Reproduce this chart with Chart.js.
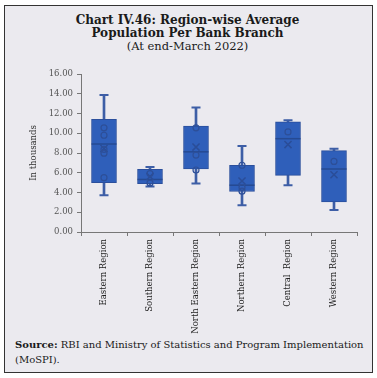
<!DOCTYPE html>
<html>
<head>
<meta charset="utf-8">
<script src="https://cdn.jsdelivr.net/npm/chart.js@4.4.0/dist/chart.umd.min.js"></script>
<style>
  body { margin: 0; background: #fff; }
  #frame {
    position: absolute; left: 4px; top: 5px; width: 367px; height: 366px;
    border: 1.5px solid #333; background: #ebeaef;
  }
  .title {
    position: absolute; left: 0; width: 375px; text-align: center;
    font-family: "DejaVu Serif", serif; color: #1a1a1a;
  }
  #t1 { top: 13px; font-weight: bold; font-size: 12px; }
  #t2 { top: 26px; font-weight: bold; font-size: 12px; }
  #t3 { top: 39px; font-size: 11.5px; }
  #source {
    position: absolute; left: 15px; top: 337px; width: 356px;
    font-family: "DejaVu Serif", serif; font-size: 10px; line-height: 15px; color: #1a1a1a;
  }
  #wrap { position: absolute; left: 0; top: 60px; width: 377px; height: 277px; }
</style>
</head>
<body>
<div id="frame"></div>
<div class="title" id="t1">Chart IV.46: Region-wise Average</div>
<div class="title" id="t2">Population Per Bank Branch</div>
<div class="title" id="t3">(At end-March 2022)</div>
<div id="wrap"><canvas id="boxChart"></canvas></div>
<div id="source"><b>Source:</b> RBI and Ministry of Statistics and Program Implementation (MoSPI).</div>
<script>
// Regions
const regions = ["Eastern Region", "Southern Region", "North Eastern Region", "Northern Region", "Central  Region", "Western Region"];

// box plot stats (in thousands)
const whiskerLow = [3.72, 4.6, 4.9, 2.72, 4.74, 2.24];
const whiskerHigh = [13.88, 6.57, 12.62, 8.72, 11.32, 8.43];
const q1 = [5.0, 4.9, 6.38, 4.1, 5.74, 3.05];
const q3 = [11.41, 6.35, 10.72, 6.76, 11.15, 8.24];
const medians = [8.91, 5.32, 8.12, 4.74, 9.45, 6.38];
const means = [8.45, 5.62, 8.6, 5.16, 8.85, 5.8];

// individual observations shown inside the boxes
const innerPoints = [
  [10.55, 9.8, 8.37, 7.98, 5.5],
  [5.92, 4.95],
  [10.55, 7.79, 6.28],
  [6.76, 4.52, 4.13],
  [10.13],
  [7.15]
];

const yTicks = [0, 2, 4, 6, 8, 10, 12, 14, 16];

const boxFill = "#2f5fba";
const boxLine = "#2b4f9c";
const whiskerColor = "#3d5ea6";

//build point data for the category axis
const capData = [];
regions.forEach((r, i) => {
  capData.push({ x: r, y: whiskerLow[i] });
  capData.push({ x: r, y: whiskerHigh[i] });
});
const medianData = regions.map((r, i) => ({ x: r, y: medians[i] }));
const meanData = regions.map((r, i) => ({ x: r, y: means[i] }));
const pointData = [];
innerPoints.forEach((pts, i) => {
  pts.forEach((v) => pointData.push({ x: regions[i], y: v }));
});

const tickFont = { family: "DejaVu Serif", size: 8.5 };

const boxChart = new Chart(document.getElementById("boxChart"), {
  type: "bar",
  data: {
    labels: regions,
    datasets: [
      {
        label: "whisker",
        data: regions.map((r, i) => [whiskerLow[i], whiskerHigh[i]]),
        backgroundColor: whiskerColor,
        barThickness: 2,
        grouped: false,
        order: 10,
      },
      {
        label: "box",
        data: regions.map((r, i) => [q1[i], q3[i]]),
        backgroundColor: boxFill,
        borderColor: boxLine,
        borderWidth: 1,
        borderSkipped: false,
        barThickness: 25,
        grouped: false,
        order: 5,
      },
      {
        type: "line",
        label: "caps",
        data: capData,
        showLine: false,
        pointStyle: "line",
        pointRadius: 4.5,
        pointBorderWidth: 2,
        pointBorderColor: whiskerColor,
        order: 3,
      },
      {
        type: "line",
        label: "median",
        data: medianData,
        showLine: false,
        pointStyle: "line",
        pointRadius: 12.5,
        pointBorderWidth: 1.5,
        pointBorderColor: "#264a92",
        order: 2,
      },
      {
        type: "line",
        label: "mean",
        data: meanData,
        showLine: false,
        pointStyle: "crossRot",
        pointRadius: 5,
        pointBorderWidth: 1.5,
        pointBorderColor: "#2a4d98",
        order: 1,
      },
      {
        type: "line",
        label: "points",
        data: pointData,
        showLine: false,
        pointStyle: "circle",
        pointRadius: 3,
        pointBorderWidth: 1.2,
        pointBorderColor: "#2d4f98",
        pointBackgroundColor: "rgba(0,0,0,0)",
        order: 0,
      },
    ],
  },
  options: {
    responsive: true,
    maintainAspectRatio: false,
    animation: false,
    layout: { padding: { left: 0, right: 20, top: 6, bottom: 0 } },
    plugins: { legend: { display: false }, tooltip: { enabled: false } },
    scales: {
      x: {
        grid: { drawOnChartArea: false, drawTicks: true, tickLength: 4, color: "#777", offset: true },
        border: { color: "#777", width: 1 },
        ticks: { font: { family: "DejaVu Serif", size: 8.5 }, color: "#222", minRotation: 90, maxRotation: 90, padding: 3, autoSkip: false },
        afterFit: (scale) => { scale.height = 105; },
      },
      y: {
        min: 0,
        max: 16,
        afterBuildTicks: (scale) => { scale.ticks = yTicks.map((v) => ({ value: v })); },
        grid: { drawOnChartArea: false, drawTicks: true, tickLength: 4, color: "#777" },
        border: { color: "#777", width: 1 },
        ticks: { font: tickFont, color: "#555", padding: 4, callback: (v) => v.toFixed(2) },
        title: { display: true, text: "In thousands", font: { family: "DejaVu Serif", size: 8.5 }, color: "#333", padding: { top: 29, bottom: 0 } },
        afterFit: (scale) => { scale.width = 81; },
      },
    },
  },
});
</script>
</body>
</html>
